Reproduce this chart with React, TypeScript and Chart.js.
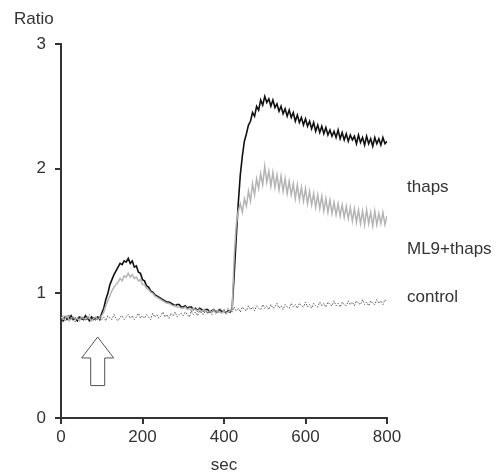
import React, { useEffect, useRef } from "react";
import { Chart, registerables } from "chart.js";

Chart.register(...registerables);

const times = [
  0, 5, 10, 15, 20, 25, 30, 35, 40, 45, 50, 55, 60, 65, 70, 75, 80, 85, 90, 95,
  100, 105, 110, 115, 120, 125, 130, 135, 140, 145, 150, 155, 160, 165, 170, 175, 180, 185, 190, 195,
  200, 205, 210, 215, 220, 225, 230, 235, 240, 245, 250, 255, 260, 265, 270, 275, 280, 285, 290, 295,
  300, 305, 310, 315, 320, 325, 330, 335, 340, 345, 350, 355, 360, 365, 370, 375, 380, 385, 390, 395,
  400, 405, 410, 415, 420, 425, 430, 435, 440, 445, 450, 455, 460, 465, 470, 475, 480, 485, 490, 495,
  500, 505, 510, 515, 520, 525, 530, 535, 540, 545, 550, 555, 560, 565, 570, 575, 580, 585, 590, 595,
  600, 605, 610, 615, 620, 625, 630, 635, 640, 645, 650, 655, 660, 665, 670, 675, 680, 685, 690, 695,
  700, 705, 710, 715, 720, 725, 730, 735, 740, 745, 750, 755, 760, 765, 770, 775, 780, 785, 790, 795,
  800,
];

const thaps = [
  0.8, 0.78, 0.81, 0.79, 0.8, 0.82, 0.79, 0.8, 0.78, 0.81, 0.8, 0.79, 0.82, 0.8, 0.78, 0.81, 0.79, 0.8, 0.81, 0.79,
  0.84, 0.88, 0.95, 1.0, 1.07, 1.11, 1.15, 1.18, 1.21, 1.24, 1.23, 1.26, 1.25, 1.28, 1.24, 1.26, 1.21, 1.22, 1.17, 1.16,
  1.11, 1.1, 1.06, 1.05, 1.02, 1.01, 0.99, 0.98, 0.97, 0.96, 0.95, 0.94, 0.93, 0.93, 0.92, 0.91, 0.9, 0.91, 0.91, 0.89,
  0.89, 0.9, 0.88, 0.89, 0.89, 0.87, 0.88, 0.86, 0.88, 0.87, 0.86, 0.87, 0.87, 0.85, 0.86, 0.87, 0.85, 0.86, 0.87, 0.85,
  0.86, 0.84, 0.86, 0.85, 0.88, 1.15, 1.45, 1.72, 1.95, 2.1, 2.22, 2.28, 2.35, 2.38, 2.45, 2.42, 2.5, 2.47, 2.55, 2.51,
  2.58, 2.53, 2.56, 2.5, 2.55, 2.49, 2.52, 2.46, 2.5, 2.44, 2.48, 2.42, 2.47, 2.41, 2.45, 2.38, 2.43, 2.37, 2.41, 2.35,
  2.4, 2.34, 2.38, 2.32, 2.37, 2.3, 2.35, 2.29, 2.34, 2.28, 2.33, 2.27, 2.31, 2.26, 2.3, 2.25, 2.31, 2.24, 2.29, 2.23,
  2.28, 2.22, 2.27, 2.23, 2.26, 2.2, 2.27, 2.21, 2.25, 2.19, 2.26, 2.2, 2.24, 2.18, 2.25, 2.2, 2.24, 2.19, 2.25, 2.2,
  2.22,
];

const ml9Thaps = [
  0.81, 0.79, 0.8, 0.82, 0.78, 0.8, 0.81, 0.79, 0.8, 0.78, 0.81, 0.8, 0.79, 0.81, 0.8, 0.78, 0.8, 0.81, 0.79, 0.8,
  0.82, 0.85, 0.9, 0.94, 0.98, 1.02, 1.05, 1.07, 1.09, 1.12, 1.1, 1.14, 1.13, 1.16, 1.13, 1.15, 1.12, 1.13, 1.1, 1.11,
  1.07, 1.07, 1.04, 1.03, 1.01, 1.0, 0.98, 0.97, 0.96, 0.95, 0.94, 0.93, 0.92, 0.92, 0.91, 0.9, 0.9, 0.89, 0.89, 0.88,
  0.88, 0.89, 0.87, 0.88, 0.86, 0.88, 0.87, 0.86, 0.87, 0.85, 0.87, 0.86, 0.84, 0.86, 0.85, 0.87, 0.84, 0.86, 0.85, 0.84,
  0.86, 0.84, 0.85, 0.86, 0.87, 1.3, 1.55, 1.66, 1.72, 1.65, 1.76, 1.7, 1.82, 1.74, 1.88, 1.79, 1.92, 1.84, 1.96, 1.87,
  2.02, 1.89, 1.98, 1.86, 1.97, 1.85, 1.95, 1.83, 1.94, 1.82, 1.92, 1.8, 1.9, 1.79, 1.88, 1.76, 1.87, 1.75, 1.85, 1.74,
  1.84, 1.72, 1.82, 1.71, 1.8, 1.69, 1.79, 1.68, 1.78, 1.66, 1.76, 1.65, 1.75, 1.64, 1.73, 1.63, 1.72, 1.62, 1.71, 1.61,
  1.7, 1.6, 1.69, 1.58, 1.68, 1.57, 1.67, 1.56, 1.66, 1.55, 1.67, 1.56, 1.65, 1.54, 1.66, 1.55, 1.64, 1.56, 1.65, 1.55,
  1.62,
];

const control = [
  0.79, 0.82, 0.78, 0.8, 0.83, 0.79, 0.81, 0.77, 0.8, 0.82, 0.79, 0.81, 0.78, 0.8, 0.83, 0.79, 0.81, 0.78, 0.8, 0.82,
  0.79, 0.81, 0.78, 0.82, 0.8, 0.79, 0.83, 0.8, 0.78, 0.81, 0.82, 0.79, 0.81, 0.83, 0.8, 0.82, 0.79, 0.81, 0.84, 0.8,
  0.82, 0.8, 0.83, 0.81, 0.79, 0.84, 0.81, 0.83, 0.8, 0.82, 0.85, 0.81, 0.83, 0.8, 0.84, 0.82, 0.85, 0.81, 0.83, 0.84,
  0.82, 0.85, 0.83, 0.81, 0.86, 0.83, 0.85, 0.82, 0.86, 0.84, 0.83, 0.87, 0.84, 0.86, 0.83, 0.87, 0.85, 0.84, 0.88, 0.85,
  0.87, 0.84, 0.88, 0.86, 0.85, 0.89, 0.86, 0.88, 0.85, 0.89, 0.87, 0.86, 0.9, 0.87, 0.89, 0.86, 0.9, 0.88, 0.87, 0.91,
  0.88, 0.9, 0.87, 0.91, 0.88, 0.89, 0.92, 0.88, 0.9, 0.87, 0.91, 0.89, 0.88, 0.92, 0.89, 0.91, 0.88, 0.92, 0.9, 0.89,
  0.93, 0.89, 0.91, 0.88, 0.92, 0.9, 0.89, 0.93, 0.9, 0.92, 0.89, 0.93, 0.91, 0.9, 0.94, 0.9, 0.92, 0.89, 0.93, 0.91,
  0.9, 0.94, 0.91, 0.93, 0.9, 0.94, 0.92, 0.91, 0.95, 0.91, 0.93, 0.9, 0.94, 0.92, 0.91, 0.95, 0.92, 0.94, 0.91, 0.95,
  0.93,
];

const yTicks = [0, 1, 2, 3];
const xTicks = [0, 200, 400, 600, 800];
const seriesLabels = ["thaps", "ML9+thaps", "control"];
const labelValues = [1.85, 1.35, 0.97];
const arrowTime = 90;

const FONT = "'Liberation Sans', Arial, sans-serif";
const TEXT = "#333";

const pts = (vals: number[]) => vals.map((v, i) => ({ x: times[i], y: v }));

const annotations = {
  id: "annotations",
  afterDraw(chart: any) {
    const { ctx, scales } = chart;
    const xs = scales.x;
    const ys = scales.y;
    ctx.save();
    ctx.fillStyle = TEXT;
    ctx.font = `17px ${FONT}`;
    ctx.textBaseline = "middle";
    ctx.textAlign = "left";
    ctx.fillText("Ratio", 14, 19);
    const lx = xs.right + 20;
    seriesLabels.forEach((s, i) => {
      ctx.fillText(s, lx, ys.getPixelForValue(labelValues[i]));
    });
    ctx.textAlign = "center";
    ctx.fillText("sec", (xs.left + xs.right) / 2, 465);
    // arrow
    const ax = xs.getPixelForValue(arrowTime);
    const tipY = ys.getPixelForValue(0.65);
    const baseY = ys.getPixelForValue(0.26);
    const headY = tipY + 21;
    ctx.beginPath();
    ctx.moveTo(ax, tipY);
    ctx.lineTo(ax + 16, headY);
    ctx.lineTo(ax + 7, headY);
    ctx.lineTo(ax + 7, baseY);
    ctx.lineTo(ax - 7, baseY);
    ctx.lineTo(ax - 7, headY);
    ctx.lineTo(ax - 16, headY);
    ctx.closePath();
    ctx.fillStyle = "#fff";
    ctx.fill();
    ctx.strokeStyle = "#555";
    ctx.lineWidth = 1;
    ctx.stroke();
    ctx.restore();
  },
};

export default function App() {
  const ref = useRef<HTMLCanvasElement>(null);
  useEffect(() => {
    if (!ref.current) return;
    const chart = new Chart(ref.current, {
      type: "line",
      data: {
        datasets: [
          {
            label: "control",
            data: pts(control),
            borderColor: "#555",
            borderWidth: 1,
            borderDash: [1.5, 1.5],
            pointRadius: 0,
            tension: 0,
          },
          {
            label: "ML9+thaps",
            data: pts(ml9Thaps),
            borderColor: "#b4b4b4",
            borderWidth: 1.5,
            pointRadius: 0,
            tension: 0,
          },
          {
            label: "thaps",
            data: pts(thaps),
            borderColor: "#111",
            borderWidth: 1.6,
            pointRadius: 0,
            tension: 0,
          },
        ],
      },
      options: {
        animation: false,
        responsive: false,
        layout: { padding: { top: 44, right: 117, left: 0, bottom: 0 } },
        plugins: { legend: { display: false }, tooltip: { enabled: false } },
        scales: {
          x: {
            type: "linear",
            min: 0,
            max: 800,
            afterFit: (s: any) => {
              s.height = 55;
            },
            afterBuildTicks: (s: any) => {
              s.ticks = xTicks.map((v) => ({ value: v }));
            },
            grid: { drawOnChartArea: false, drawTicks: true, tickLength: 6, color: "#333", lineWidth: 2 },
            border: { display: true, color: "#333", width: 2 },
            ticks: { color: TEXT, font: { size: 17, family: FONT }, padding: 3, maxRotation: 0 },
          },
          y: {
            min: 0,
            max: 3,
            afterFit: (s: any) => {
              s.width = 61;
            },
            afterBuildTicks: (s: any) => {
              s.ticks = yTicks.map((v) => ({ value: v }));
            },
            grid: { drawOnChartArea: false, drawTicks: true, tickLength: 6, color: "#333", lineWidth: 2 },
            border: { display: true, color: "#333", width: 2 },
            ticks: { color: TEXT, font: { size: 17, family: FONT }, padding: 9 },
          },
        },
      },
      plugins: [annotations],
    });
    return () => chart.destroy();
  }, []);
  return (
    <div style={{ position: "absolute", left: 0, top: 0, width: 504, height: 473, background: "#fff" }}>
      <canvas ref={ref} width={504} height={473} />
    </div>
  );
}
